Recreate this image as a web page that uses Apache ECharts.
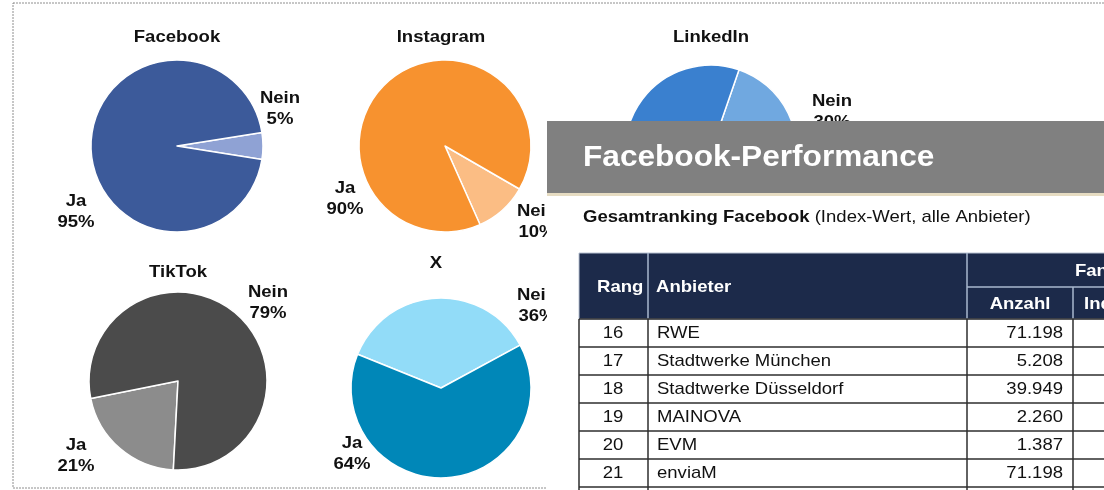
<!DOCTYPE html>
<html>
<head>
<meta charset="utf-8">
<script src="https://cdn.jsdelivr.net/npm/echarts@6/dist/echarts.min.js"></script>
<style>
  html, body { margin: 0; padding: 0; background: #ffffff; }
  #chart { width: 1104px; height: 490px; }
</style>
</head>
<body>
<div id="chart"></div>
<script>
// ---- data ----
const platforms = ['Facebook', 'Instagram', 'LinkedIn', 'TikTok', 'X'];
const jaValues = [95, 90, 70, 21, 64];
const neinValues = [5, 10, 30, 79, 36];
const answerLabels = ['Ja', 'Nein'];

const ranks = [16, 17, 18, 19, 20, 21];
const providers = ['RWE', 'Stadtwerke München', 'Stadtwerke Düsseldorf', 'MAINOVA', 'EVM', 'enviaM'];
const fanCounts = [71198, 5208, 39949, 2260, 1387, 71198];

const panelTitle = 'Facebook-Performance';
const subtitleBold = 'Gesamtranking Facebook';
const subtitleRest = ' (Index-Wert, alle Anbieter)';
const headRang = 'Rang', headAnbieter = 'Anbieter', headFans = 'Fans', headAnzahl = 'Anzahl', headIndex = 'Index';

// ---- layout / style ----
const pieLayout = [
  { c: [177, 146], r: 86, start: 9,   neinFirst: true,  ja: '#3c5a9a', nein: '#8fa2d4', title: [177, 37],
    jaLbl: [76, 212], neinLbl: [280, 109] },
  { c: [445, 146], r: 86, start: -30, neinFirst: true,  ja: '#f7922f', nein: '#fbbd84', title: [441, 37],
    jaLbl: [345, 199], neinLbl: [537, 222] },
  { c: [711, 151], r: 86, start: 71,  neinFirst: true,  ja: '#3a80cf', nein: '#70a8e0', title: [711, 37],
    jaLbl: [600, 210], neinLbl: [832, 112] },
  { c: [178, 381], r: 89, start: -93, neinFirst: false, ja: '#8c8c8c', nein: '#4b4b4b', title: [178, 272],
    jaLbl: [76, 456], neinLbl: [268, 303] },
  { c: [441, 388], r: 90, start: 158, neinFirst: true,  ja: '#0087b8', nein: '#92dcf8', title: [436, 263],
    jaLbl: [352, 454], neinLbl: [537, 306] }
];

const FONT = '"Liberation Sans", Arial, sans-serif';
const SX = 1.09; // reference text is slightly wide

function fmtDe(n) {
  return String(n).replace(/\B(?=(\d{3})+(?!\d))/g, '.');
}

const series = platforms.map((p, i) => {
  const L = pieLayout[i];
  const ja = { name: answerLabels[0], value: jaValues[i], itemStyle: { color: L.ja } };
  const nein = { name: answerLabels[1], value: neinValues[i], itemStyle: { color: L.nein } };
  return {
    type: 'pie',
    name: p,
    center: L.c,
    radius: [0, L.r],
    startAngle: L.start,
    clockwise: true,
    label: { show: false },
    labelLine: { show: false },
    emphasis: { disabled: true },
    silent: true,
    itemStyle: { borderColor: '#ffffff', borderWidth: 1.5 },
    z: 2,
    data: L.neinFirst ? [nein, ja] : [ja, nein]
  };
});

const g = [];
function txt(x, y, z, style) {
  return { type: 'text', z: z, x: x, y: y, scaleX: SX, style: style };
}
// dashed outer frame
g.push({ type: 'rect', z: 1, shape: { x: 13, y: 3, width: 1200, height: 485 },
  style: { fill: 'none', stroke: '#8e8e8e', lineWidth: 1, lineDash: [2, 1] } });

// pie titles and labels
platforms.forEach((p, i) => {
  const L = pieLayout[i];
  g.push(txt(L.title[0], L.title[1], 5,
    { text: p, font: 'bold 17px ' + FONT, fill: '#111', align: 'center', verticalAlign: 'middle' }));
  g.push(txt(L.jaLbl[0], L.jaLbl[1], 5,
    { text: answerLabels[0] + '\n' + jaValues[i] + '%', font: 'bold 17px ' + FONT, lineHeight: 21,
      fill: '#111', align: 'center', verticalAlign: 'middle' }));
  g.push(txt(L.neinLbl[0], L.neinLbl[1], 5,
    { text: answerLabels[1] + '\n' + neinValues[i] + '%', font: 'bold 17px ' + FONT, lineHeight: 21,
      fill: '#111', align: 'center', verticalAlign: 'middle' }));
});

// overlay panel
const OZ = 100;
g.push({ type: 'rect', z: OZ, shape: { x: 547, y: 121, width: 600, height: 400 }, style: { fill: '#ffffff' } });
g.push({ type: 'rect', z: OZ + 1, shape: { x: 547, y: 121, width: 600, height: 72 }, style: { fill: '#808080' } });
g.push({ type: 'rect', z: OZ + 1, shape: { x: 547, y: 193, width: 600, height: 3 }, style: { fill: '#e6dcc2' } });
g.push(txt(583, 158, OZ + 2,
  { text: panelTitle, font: 'bold 29px ' + FONT, fill: '#ffffff', align: 'left', verticalAlign: 'middle' }));
g.push(txt(583, 217, OZ + 2,
  { text: '{b|' + subtitleBold + '}{n|' + subtitleRest + '}', fill: '#111', align: 'left', verticalAlign: 'middle',
    rich: { b: { font: 'bold 17px ' + FONT, fill: '#111' }, n: { font: '17px ' + FONT, fill: '#111' } } }));

// table header
const tX = 579, tTop = 253, hMid = 287, hBot = 319, rowH = 28;
const c1 = 648, c2 = 967, c3 = 1073;
g.push({ type: 'rect', z: OZ + 1, shape: { x: tX, y: tTop, width: 600, height: hBot - tTop },
  style: { fill: '#1c2a4a', stroke: '#b8c2d2', lineWidth: 1 } });
const hl = { stroke: '#a9b8cf', lineWidth: 1.5 };
g.push({ type: 'line', z: OZ + 2, shape: { x1: c1, y1: tTop, x2: c1, y2: hBot }, style: hl });
g.push({ type: 'line', z: OZ + 2, shape: { x1: c2, y1: tTop, x2: c2, y2: hBot }, style: hl });
g.push({ type: 'line', z: OZ + 2, shape: { x1: c2, y1: hMid, x2: 1110, y2: hMid }, style: hl });
g.push({ type: 'line', z: OZ + 2, shape: { x1: c3, y1: hMid, x2: c3, y2: hBot }, style: hl });
const hf = 'bold 17px ' + FONT;
g.push(txt(597, 287, OZ + 3, { text: headRang, font: hf, fill: '#fff', align: 'left', verticalAlign: 'middle' }));
g.push(txt(656, 287, OZ + 3, { text: headAnbieter, font: hf, fill: '#fff', align: 'left', verticalAlign: 'middle' }));
g.push(txt(1075, 271, OZ + 3, { text: headFans, font: hf, fill: '#fff', align: 'left', verticalAlign: 'middle' }));
g.push(txt(1020, 304, OZ + 3, { text: headAnzahl, font: hf, fill: '#fff', align: 'center', verticalAlign: 'middle' }));
g.push(txt(1084, 304, OZ + 3, { text: headIndex, font: hf, fill: '#fff', align: 'left', verticalAlign: 'middle' }));

// table body
const bl = { stroke: '#2e2e2e', lineWidth: 1.5 };
for (let i = 0; i <= ranks.length; i++) {
  const y = hBot + i * rowH;
  g.push({ type: 'line', z: OZ + 2, shape: { x1: tX, y1: y, x2: 1110, y2: y }, style: bl });
}
[tX, c1, c2, c3].forEach(x => {
  g.push({ type: 'line', z: OZ + 2, shape: { x1: x, y1: hBot, x2: x, y2: 495 }, style: bl });
});
const bf = '17px ' + FONT;
ranks.forEach((r, i) => {
  const y = hBot + i * rowH + rowH / 2 + 0.5;
  g.push(txt(613, y, OZ + 3, { text: String(r), font: bf, fill: '#111', align: 'center', verticalAlign: 'middle' }));
  g.push(txt(657, y, OZ + 3, { text: providers[i], font: bf, fill: '#111', align: 'left', verticalAlign: 'middle' }));
  g.push(txt(1063, y, OZ + 3, { text: fmtDe(fanCounts[i]), font: bf, fill: '#111', align: 'right', verticalAlign: 'middle' }));
});

const chart = echarts.init(document.getElementById('chart'), null, { renderer: 'canvas' });
chart.setOption({
  animation: false,
  backgroundColor: '#ffffff',
  series: series,
  graphic: { elements: g }
});
</script>
</body>
</html>
